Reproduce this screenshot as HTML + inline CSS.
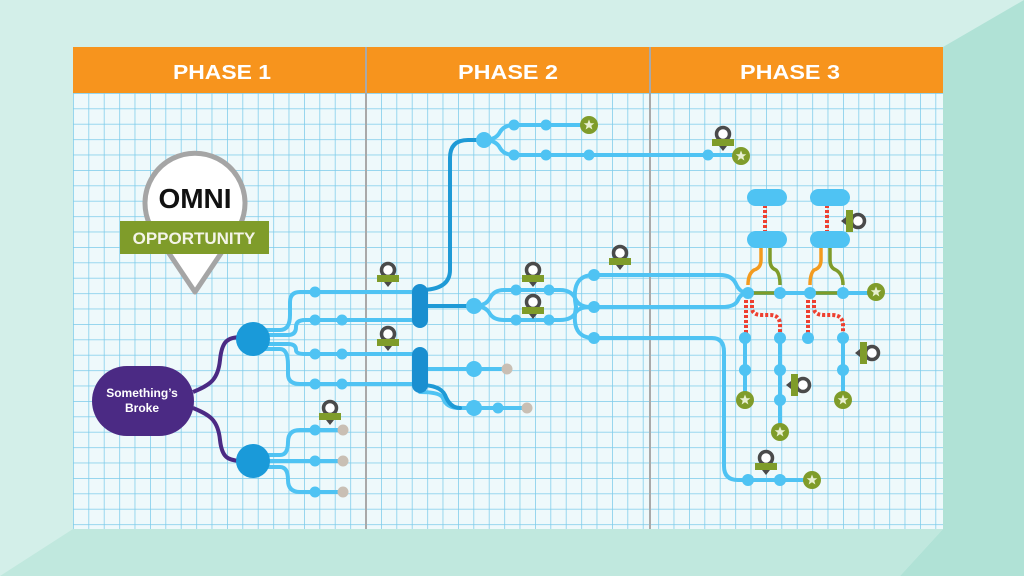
<!DOCTYPE html>
<html><head><meta charset="utf-8"><style>
html,body{margin:0;padding:0;width:1024px;height:576px;overflow:hidden;background:#d3efe9}
svg{display:block}
</style></head><body>
<svg width="1024" height="576" viewBox="0 0 1024 576" xmlns="http://www.w3.org/2000/svg" font-family="Liberation Sans, sans-serif">
<defs>
<pattern id="g" x="73" y="93" width="15.4" height="15.4" patternUnits="userSpaceOnUse">
<path d="M0 0H15.4M0 0V15.4" stroke="#7ccbea" stroke-width="1.5" fill="none"/>
</pattern>
<g id="pin"><circle cx="0" cy="-6" r="6.5" fill="#fff" stroke="#4a4a4a" stroke-width="3.5"/><rect x="-11" y="-1" width="22" height="7" fill="#7f9c2a"/><path d="M-4 6L0 11L4 6Z" fill="#4a4a4a"/></g>
<g id="star"><circle r="9" fill="#7f9c2a"/><path d="M0-5.5L1.5-1.8L5.3-1.7L2.3 0.7L3.4 4.5L0 2.3L-3.4 4.5L-2.3 0.7L-5.3-1.7L-1.5-1.8Z" fill="#e8f0d0"/></g>
</defs>
<rect width="1024" height="576" fill="#d3efe9"/>
<path d="M943 47L1024 0L1024 576L900 576L943 529Z" fill="#b0e2d6"/>
<path d="M0 576L73 529L943 529L900 576Z" fill="#c0e8de"/>
<rect x="73" y="47" width="870" height="482" fill="#eef9fb"/>
<rect x="73" y="93" width="870" height="436" fill="url(#g)"/>
<rect x="73" y="47" width="870" height="46" fill="#f7941d"/>
<line x1="366" y1="47" x2="366" y2="529" stroke="#a9a9a9" stroke-width="2"/>
<line x1="650" y1="47" x2="650" y2="529" stroke="#a9a9a9" stroke-width="2"/>
<g fill="#fff" font-weight="bold" font-size="20" text-anchor="middle">
<text x="222" y="79" textLength="98" lengthAdjust="spacingAndGlyphs">PHASE 1</text><text x="508" y="79" textLength="100" lengthAdjust="spacingAndGlyphs">PHASE 2</text><text x="790" y="79" textLength="100" lengthAdjust="spacingAndGlyphs">PHASE 3</text></g>

<path d="M195 292L150 225A50 50 0 1 1 240 225Z" fill="#fff" stroke="#a5a5a5" stroke-width="5" stroke-linejoin="round"/>
<text x="195" y="208" text-anchor="middle" font-weight="bold" font-size="28" fill="#111">OMNI</text>
<rect x="120" y="221" width="149" height="33" fill="#7f9c2a"/>
<text x="194" y="244" text-anchor="middle" font-weight="bold" font-size="17" fill="#f4f4e8">OPPORTUNITY</text>

<g fill="none" stroke="#4b2a84" stroke-width="4">
<path d="M193 392C210 385 218 380 220 360C222 340 228 338 240 337"/>
<path d="M193 408C210 415 218 420 220 440C222 458 228 460 240 461"/>
</g>
<rect x="92" y="366" width="102" height="70" rx="35" fill="#4b2a84"/>
<text x="142" y="397" text-anchor="middle" font-weight="bold" font-size="12" fill="#fff">Something’s</text>
<text x="142" y="412" text-anchor="middle" font-weight="bold" font-size="12" fill="#fff">Broke</text>

<g fill="none" stroke="#4fc3f3" stroke-width="4" stroke-linecap="round">
<path d="M262 330H280Q290 330 290 315V302Q290 292 300 292H415"/>
<path d="M262 335H288Q296 335 296 327Q296 320 305 320H415"/>
<path d="M262 344H288Q296 344 296 350Q296 354 305 354H415"/>
<path d="M262 349H280Q288 349 288 365V374Q288 384 300 384H415"/>
<path d="M262 455H280Q288 455 288 442Q288 430 300 430H343"/>
<path d="M262 461H343"/>
<path d="M262 467H280Q288 467 288 480Q288 492 300 492H343"/>
<path d="M420 306H474"/>
<path d="M420 369H507"/>
<path d="M474 306Q486 306 490 298Q494 290 504 290H560Q572 290 576 300Q580 307 590 307"/>
<path d="M474 306Q486 306 490 314Q494 320 504 320H560Q572 320 576 312Q580 307 590 307"/>
<path d="M590 307H722Q735 307 738 300Q741 293 748 293"/>
<path d="M576 307Q570 275 594 275H720Q732 275 736 284Q740 293 748 293"/>
<path d="M576 307Q570 338 594 338H712Q724 338 724 352V466Q724 480 738 480H812"/>
<path d="M484 140Q496 140 500 132Q504 125 514 125H589"/>
<path d="M484 140Q496 140 500 148Q504 155 514 155H741"/>
<path d="M420 392Q440 392 443 398Q446 408 460 408H527"/>
<path d="M748 293H876"/>
<path d="M745 337V400M780 337V432M843 338V400"/>
</g>
<g fill="none" stroke="#1e9ad6" stroke-width="4" stroke-linecap="round">
<path d="M420 290Q450 290 450 270V158Q450 140 468 140H484"/>
<path d="M420 306H474"/>
<path d="M420 385Q440 385 445 395Q450 408 460 408"/>
</g>
<g fill="none" stroke-width="3.5">
<path d="M748 293H780M810 293H843" stroke="#7f9c2a"/>
<path d="M761 248V260Q761 268 754 270Q748 274 748 285" stroke="#f39b1f"/>
<path d="M770 248V260Q770 268 776 270Q780 274 780 285" stroke="#7f9c2a"/>
<path d="M821 248V260Q821 268 814 270Q810 274 810 285" stroke="#f39b1f"/>
<path d="M830 248V260Q830 268 836 270Q843 274 843 285" stroke="#7f9c2a"/>
</g>
<g fill="none" stroke="#ee4030" stroke-width="4" stroke-dasharray="3 2">
<path d="M765 205V232M827 205V232"/>
<path d="M746 300V333"/>
<path d="M752 300V308Q752 315 762 315H770Q780 315 780 325V333"/>
<path d="M808 300V333"/>
<path d="M814 300V308Q814 315 824 315H832Q843 315 843 325V333"/>
</g>
<g fill="#4fc3f3">
<rect x="747" y="189" width="40" height="17" rx="8.5"/><rect x="747" y="231" width="40" height="17" rx="8.5"/>
<rect x="810" y="189" width="40" height="17" rx="8.5"/><rect x="810" y="231" width="40" height="17" rx="8.5"/>
</g>

<circle cx="253" cy="339" r="17" fill="#1a9ad9"/>
<circle cx="253" cy="461" r="17" fill="#1a9ad9"/>
<rect x="412" y="284" width="16" height="44" rx="8" fill="#1a8fd0"/>
<rect x="412" y="347" width="16" height="46" rx="8" fill="#1a8fd0"/>

<g fill="#4fc3f3">
<circle cx="315" cy="292" r="5.5"/>
<circle cx="315" cy="320" r="5.5"/><circle cx="342" cy="320" r="5.5"/>
<circle cx="315" cy="354" r="5.5"/><circle cx="342" cy="354" r="5.5"/>
<circle cx="315" cy="384" r="5.5"/><circle cx="342" cy="384" r="5.5"/>
<circle cx="315" cy="430" r="5.5"/><circle cx="315" cy="461" r="5.5"/><circle cx="315" cy="492" r="5.5"/>
<circle cx="474" cy="306" r="8"/><circle cx="474" cy="369" r="8"/><circle cx="474" cy="408" r="8"/><circle cx="498" cy="408" r="5.5"/>
<circle cx="484" cy="140" r="8"/>
<circle cx="514" cy="125" r="5.5"/><circle cx="546" cy="125" r="5.5"/>
<circle cx="514" cy="155" r="5.5"/><circle cx="546" cy="155" r="5.5"/><circle cx="589" cy="155" r="5.5"/><circle cx="708" cy="155" r="5.5"/>
<circle cx="516" cy="290" r="5.5"/><circle cx="549" cy="290" r="5.5"/>
<circle cx="516" cy="320" r="5.5"/><circle cx="549" cy="320" r="5.5"/>
<circle cx="594" cy="275" r="6"/><circle cx="594" cy="307" r="6"/><circle cx="594" cy="338" r="6"/>
<circle cx="748" cy="293" r="6"/><circle cx="780" cy="293" r="6"/><circle cx="810" cy="293" r="6"/><circle cx="843" cy="293" r="6"/>
<circle cx="745" cy="338" r="6"/><circle cx="745" cy="370" r="6"/>
<circle cx="780" cy="338" r="6"/><circle cx="780" cy="370" r="6"/><circle cx="780" cy="400" r="6"/>
<circle cx="808" cy="338" r="6"/>
<circle cx="843" cy="338" r="6"/><circle cx="843" cy="370" r="6"/>
<circle cx="748" cy="480" r="6"/><circle cx="780" cy="480" r="6"/>
</g>
<g fill="#c9bfb4">
<circle cx="343" cy="430" r="5.5"/><circle cx="343" cy="461" r="5.5"/><circle cx="343" cy="492" r="5.5"/>
<circle cx="507" cy="369" r="5.5"/><circle cx="527" cy="408" r="5.5"/>
</g>
<use href="#star" x="589" y="125"/><use href="#star" x="741" y="156"/>
<use href="#star" x="876" y="292"/><use href="#star" x="745" y="400"/>
<use href="#star" x="780" y="432"/><use href="#star" x="843" y="400"/>
<use href="#star" x="812" y="480"/>

<use href="#pin" x="388" y="276"/><use href="#pin" x="388" y="340"/>
<use href="#pin" x="330" y="414"/>
<use href="#pin" x="533" y="276"/><use href="#pin" x="533" y="308"/>
<use href="#pin" x="620" y="259"/><use href="#pin" x="723" y="140"/>
<use href="#pin" x="766" y="464"/>
<use href="#pin" transform="translate(852 221) rotate(90)"/>
<use href="#pin" transform="translate(797 385) rotate(90)"/>
<use href="#pin" transform="translate(866 353) rotate(90)"/>
</svg>
</body></html>
